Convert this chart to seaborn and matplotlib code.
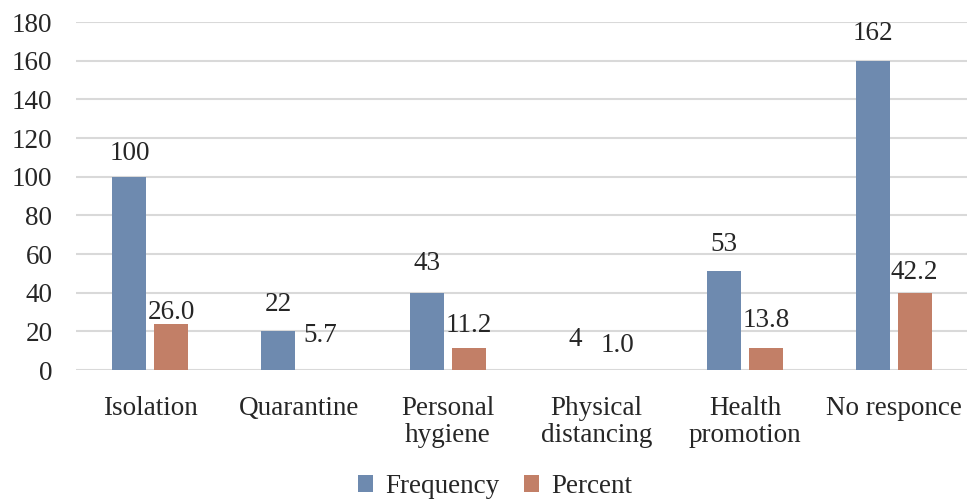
import matplotlib
matplotlib.use('Agg')
import matplotlib.pyplot as plt
import pandas as pd
import seaborn as sns

# Data
categories = ['Isolation', 'Quarantine', 'Personal\nhygiene', 'Physical\ndistancing',
              'Health\npromotion', 'No responce']
# bar heights as drawn in the reference
freq_bar = [100, 20, 40, 0, 51, 160]
pct_bar = [24, 0, 11.5, 0, 11.5, 40]
# data labels as printed
freq_vals = [100, 22, 43, 4, 53, 162]
pct_vals = [26.0, 5.7, 11.2, 1.0, 13.8, 42.2]
series = ['Frequency', 'Percent']
colors = ['#6E8AAF', '#C27F67']

df = pd.DataFrame({
    'category': categories * 2,
    'value': freq_bar + pct_bar,
    'series': [series[0]] * 6 + [series[1]] * 6,
})

sns.set_style('white')
plt.rcParams['font.family'] = ['Liberation Serif', 'DejaVu Serif']
fs = 19.5

fig = plt.figure(figsize=(9.67, 5.0), dpi=100)
ax = fig.add_axes([0.0786, 0.26, 0.9225, 0.696])

sns.barplot(data=df, x='category', y='value', hue='series', palette=colors,
            width=0.564, gap=0.19, saturation=1, linewidth=0, edgecolor='none',
            ax=ax, zorder=3)

ax.set_ylim(0, 180)
ax.set_xlim(-0.5, 5.5)
ax.set_yticks(range(0, 181, 20))
ax.yaxis.grid(True, color='#D9D9D9', linewidth=1.5, zorder=0)
ax.set_axisbelow(True)
for s in ax.spines.values():
    s.set_visible(False)
ax.tick_params(axis='both', length=0, labelsize=fs)
ax.tick_params(axis='y', pad=17)
ax.tick_params(axis='x', pad=19)
for t in ax.get_xticklabels():
    t.set_linespacing(1.1)
ax.set_xlabel('')
ax.set_ylabel('')

# data labels (positioned at the printed values)
pct_offsets = [5, 16.6, 16.6, 16.6, 16.6, 11.5]
for bar, v in zip(ax.containers[0], freq_vals):
    ax.annotate(f'{v}', (bar.get_x() + bar.get_width() / 2, v),
                xytext=(0, 16.6), textcoords='offset points',
                ha='center', va='center', fontsize=fs)
for bar, v, off in zip(ax.containers[1], pct_vals, pct_offsets):
    ax.annotate(f'{v:.1f}', (bar.get_x() + bar.get_width() / 2, v),
                xytext=(0, off), textcoords='offset points',
                ha='center', va='center', fontsize=fs)

handles, labels = ax.get_legend_handles_labels()
ax.legend(handles, labels, loc='center', bbox_to_anchor=(0.512, 0.027),
          bbox_transform=fig.transFigure, ncol=2, frameon=False, fontsize=fs,
          handlelength=0.55, handleheight=0.55, handletextpad=0.45, columnspacing=0.9)

fig.savefig('out.png', dpi=100)
